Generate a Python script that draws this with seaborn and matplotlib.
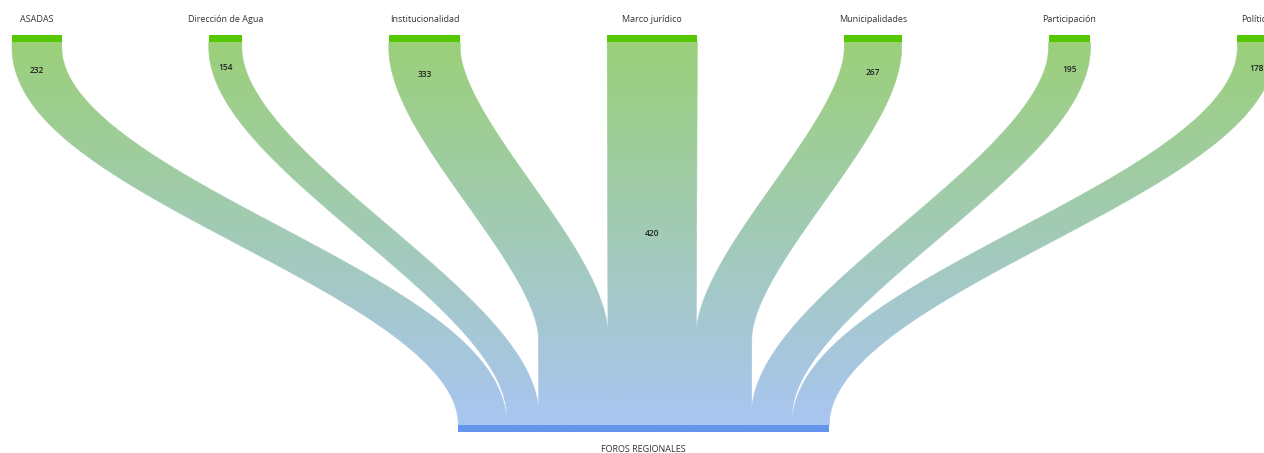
import numpy as np
import matplotlib
matplotlib.use('Agg')
import matplotlib.pyplot as plt
from matplotlib.patches import Polygon
from matplotlib.collections import LineCollection
import seaborn as sns

# Data
sources = ['ASADAS', 'Dirección de Agua', 'Institucionalidad', 'Marco jurídico',
           'Municipalidades', 'Participación', 'Política']
values = [232, 154, 333, 420, 267, 195, 178]
target = 'FOROS REGIONALES'

# Layout (pixel space of the canvas)
W, H = 1264, 453
x_start = 12          # left edge of first source node
node_gap = 147        # gap between source nodes
k_top = 0.2145        # px per unit on source nodes
k_bot = 0.2085        # px per unit on target node
y_src, y_tgt = 35, 425
node_h = 7
lead_top = 5          # straight run under the source node

top_col, bot_col = '#9BD07A', '#A9C5F2'
src_col, tgt_col = '#55C800', '#6495ED'

sns.set_theme(style='white')
plt.rcParams['font.family'] = ['Open Sans', 'DejaVu Sans']

fig = plt.figure(figsize=(W / 100, H / 100), dpi=100)
ax = fig.add_axes([0, 0, 1, 1])

vals = np.array(values, dtype=float)
w_top = vals * k_top
lefts = x_start + np.concatenate([[0], np.cumsum(w_top[:-1] + node_gap)])
span_mid = (x_start + lefts[-1] + w_top[-1]) / 2

w_bot = vals * k_bot
bot_left = span_mid - w_bot.sum() / 2
bot_lefts = bot_left + np.concatenate([[0], np.cumsum(w_bot[:-1])])

cmap = sns.blend_palette([top_col, bot_col], n_colors=256, as_cmap=True)
grad = np.linspace(0, 1, 256).reshape(-1, 1)
y0, y1 = y_src + node_h, y_tgt


def ribbon(x0, x1, wa, wb, n=400):
    run = abs(x1 - x0)
    if run < 5:
        c = np.column_stack([np.linspace(x0, x1, n), np.linspace(y0, y1, n)])
    else:
        ctrl = np.sqrt(45 * run)
        lead_bot = max(0, 161 - 0.51 * run)
        ya, yb = y0 + lead_top, y1 - lead_bot
        t = np.linspace(0, 1, n)[:, None]
        p0 = np.array([x0, ya]); p1 = np.array([x0, ya + ctrl])
        p2 = np.array([x1, yb - ctrl]); p3 = np.array([x1, yb])
        b = (1 - t) ** 3 * p0 + 3 * (1 - t) ** 2 * t * p1 + 3 * (1 - t) * t ** 2 * p2 + t ** 3 * p3
        parts = [np.column_stack([np.full(10, x0), np.linspace(y0, ya, 10, endpoint=False)]), b]
        if lead_bot > 1:
            parts.append(np.column_stack([np.full(60, x1), np.linspace(yb, y1, 61)[1:]]))
        c = np.vstack(parts)
    # drop repeated points
    keep = np.r_[True, np.hypot(*np.diff(c, axis=0).T) > 1e-6]
    c = c[keep]
    dx = np.gradient(c[:, 0]); dy = np.gradient(c[:, 1])
    L = np.maximum(np.hypot(dx, dy), 1e-9)
    nrm = np.column_stack([dy, -dx]) / L[:, None]
    cosphi = np.abs(dy) / L
    f = (c[:, 1] - y0) / (y1 - y0)
    half = (wa * (1 - f) + wb * f) / 2 * cosphi ** 0.44
    right = c + nrm * half[:, None]
    left = c - nrm * half[:, None]
    return np.vstack([right, left[::-1]])


for i in range(len(values)):
    xa = lefts[i] + w_top[i] / 2
    xb = bot_lefts[i] + w_bot[i] / 2
    pts = ribbon(xa, xb, w_top[i], w_bot[i])
    poly = Polygon(pts, closed=True, facecolor='none', edgecolor='none')
    ax.add_patch(poly)
    im = ax.imshow(grad, cmap=cmap, extent=(0, W, y1, y0), aspect='auto',
                   interpolation='bilinear', zorder=1)
    im.set_clip_path(poly)
    # soft edge along the outline
    segs = np.stack([pts[:-1], pts[1:]], axis=1)
    ymid = (segs[:, 0, 1] + segs[:, 1, 1]) / 2
    lc = LineCollection(segs, colors=cmap((ymid - y0) / (y1 - y0)), linewidths=0.5, zorder=1)
    ax.add_collection(lc)

    # value label
    if abs(xb - xa) < 10:
        ly = (y0 + y1) / 2
    else:
        ly = y0 + 20 + 0.18 * w_top[i]
    ax.text(xa, ly, str(values[i]), ha='center', va='center', fontsize=6,
            color='#222222', fontweight='semibold', zorder=3)
    ax.text(xa, 19, sources[i], ha='center', va='center', fontsize=6.5,
            color='#333333', zorder=3)

# nodes
ax.bar(lefts, [node_h] * len(lefts), bottom=y_src, width=w_top, align='edge',
       color=src_col, linewidth=0, zorder=2)
ax.bar([span_mid], [node_h], bottom=y_tgt, width=w_bot.sum(), align='center',
       color=tgt_col, linewidth=0, zorder=2)
ax.text(span_mid, 449, target, ha='center', va='center', fontsize=6.5,
        color='#333333')

ax.set_xlim(0, W)
ax.set_ylim(H, 0)
ax.axis('off')
fig.savefig('out.png', dpi=100, facecolor='white')
